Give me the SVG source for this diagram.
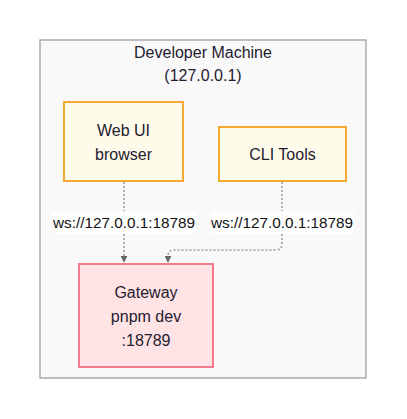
<svg xmlns="http://www.w3.org/2000/svg" width="407" height="419" viewBox="0 0 407 419">
<style>
text{font-family:"Liberation Sans",Arial,sans-serif;font-size:16px;fill:#1f2030;text-anchor:middle;dominant-baseline:central}
.client{fill:#fffbeb;stroke:#f5a833;stroke-width:2}
.gw{fill:#ffe3e5;stroke:#f47b8c;stroke-width:2}
.edge{fill:none;stroke:#999;stroke-width:1.5;stroke-dasharray:2 2}
.lblbg{fill:#fff;opacity:0.85}
.lbl{font-size:15.3px;fill:#111}
</style>
<defs>
<marker id="arr" viewBox="0 0 10 10" refX="9" refY="5" markerWidth="7" markerHeight="7" markerUnits="userSpaceOnUse" orient="auto">
<path d="M0,0 L10,5 L0,10 z" fill="#666"/>
</marker>
</defs>
<rect width="407" height="419" fill="#fff"/>
<g id="machine">
<rect x="40" y="40" width="326" height="338" fill="#f9f9f9" stroke="#aaa" stroke-width="1.5"/>
<text x="203" y="52">Developer Machine</text>
<text x="203" y="75">(127.0.0.1)</text>
</g>
<g id="connectors">
<path class="edge" d="M124,182 V262" marker-end="url(#arr)"/>
<path class="edge" d="M282,182 V244 Q282,250 276,250 H174 Q168,250 168,256 V262" marker-end="url(#arr)"/>
<rect class="lblbg" x="52" y="211" width="144" height="23"/>
<text class="lbl" x="124" y="222.5">ws://127.0.0.1:18789</text>
<rect class="lblbg" x="210" y="211" width="144" height="23"/>
<text class="lbl" x="282" y="222.5">ws://127.0.0.1:18789</text>
</g>
<g id="webui">
<rect class="client" x="64" y="102" width="119" height="79"/>
<text x="123.5" y="130">Web UI</text>
<text x="123.5" y="154">browser</text>
</g>
<g id="cli">
<rect class="client" x="219" y="127" width="127" height="54"/>
<text x="282.5" y="154">CLI Tools</text>
</g>
<g id="gateway">
<rect class="gw" x="79" y="264" width="134" height="103"/>
<text x="146" y="292">Gateway</text>
<text x="146" y="316">pnpm dev</text>
<text x="146" y="340">:18789</text>
</g>
</svg>
